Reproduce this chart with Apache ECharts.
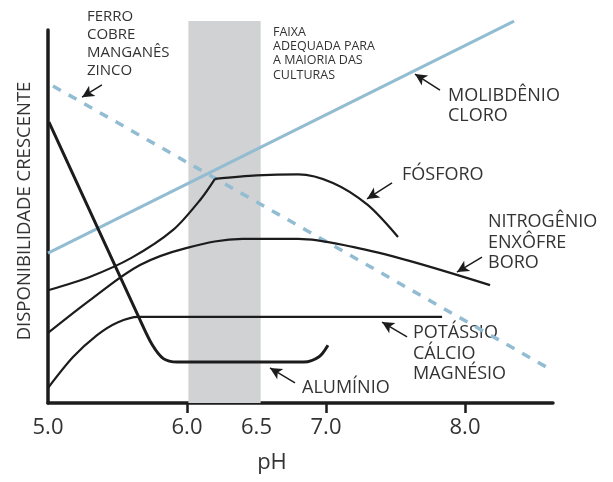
<!DOCTYPE html>
<html>
<head>
<meta charset="utf-8">
<script src="https://cdn.jsdelivr.net/npm/echarts@6/dist/echarts.min.js"></script>
<style>
  html, body { margin: 0; padding: 0; background: #fff; }
  #chart { width: 613px; height: 482px; }
</style>
</head>
<body>
<div id="chart"></div>
<script>
// pH no eixo x, disponibilidade relativa (0-100) no eixo y
const xLabels = [5.0, 6.0, 6.5, 7.0, 8.0]
const xTicks = [6.0, 7.0, 8.0]
const faixa = [[6.01, 6.53, 102.4]]   // faixa adequada: ph inicial, ph final, topo

const molibdenio = [[5.0, 40.2], [8.353, 102.4]]
const ferro = [[5.036, 85.0], [8.597, 9.4]]
const aluminio = [
  [5.007, 75.3], [5.662, 22.3], [5.75, 15.6], [5.83, 11.9], [5.93, 11.0],
  [6.84, 11.0], [6.95, 12.4], [7.014, 15.5]
]
const fosforoSubida = [
  [5.007, 30.3], [5.3, 33.8], [5.6, 38.9], [5.9, 46.4], [6.1, 54.7], [6.201, 60.1]
]
const fosforoTopo = [
  [6.201, 60.1], [6.5, 61.0], [6.8, 61.3], [7.05, 59.0], [7.3, 53.1], [7.518, 44.5]
]
const nitrogenio = [
  [5.0, 18.8], [5.324, 28.2], [5.662, 37.0], [6.0, 41.6], [6.4, 44.0],
  [6.8, 44.0], [7.2, 41.8], [7.6, 38.1], [8.18, 31.6]
]
const potassio = [
  [5.0, 4.0], [5.18, 12.3], [5.353, 18.2], [5.5, 21.6], [5.65, 23.1], [7.835, 23.1]
]
// setas: [cauda, ponta]
const setas = [
  [[5.388, 85.3], [5.245, 82.0]],
  [[7.82, 83.9], [7.64, 88.2]],
  [[7.475, 59.0], [7.295, 54.7]],
  [[8.122, 39.1], [7.942, 35.1]],
  [[7.583, 17.7], [7.403, 21.7]],
  [[6.777, 5.4], [6.597, 9.4]]
]

const preto = '#1c1c1c'
const azul = '#92bcd2'
const texto = '#333'
const fonte = '"Open Sans", sans-serif'

let myChart = echarts.init(document.getElementById('chart'))

function curva(data, width, smooth) {
  return {
    type: 'line',
    data: data,
    symbol: 'none',
    smooth: smooth,
    clip: false,
    z: 3,
    lineStyle: { color: preto, width: width }
  }
}

function rotulo(txt, x, y, size, lh) {
  return {
    type: 'text',
    style: {
      text: txt, x: x, y: y, fill: texto,
      font: size + 'px ' + fonte,
      lineHeight: lh,
      textAlign: 'left',
      textVerticalAlign: 'top'
    }
  }
}

let option = {
  animation: false,
  grid: { left: 48, right: 60, top: 30, bottom: 79 },
  xAxis: {
    type: 'value',
    min: 5.0,
    max: 8.633,
    axisLine: { show: true, lineStyle: { color: preto, width: 3.5 } },
    axisTick: {
      show: true, length: 10, inside: false,
      customValues: xTicks,
      lineStyle: { color: preto, width: 2.5 }
    },
    axisLabel: {
      customValues: xLabels,
      formatter: v => v.toFixed(1),
      color: texto,
      fontSize: 22,
      fontFamily: fonte,
      margin: 14
    },
    splitLine: { show: false }
  },
  yAxis: {
    type: 'value',
    min: 0,
    max: 100,
    axisLine: { show: true, lineStyle: { color: preto, width: 3.5 } },
    axisTick: { show: false },
    axisLabel: { show: false },
    splitLine: { show: false }
  },
  graphic: [
    {
      type: 'text',
      rotation: Math.PI / 2,
      x: 25, y: 211,
      style: {
        text: 'DISPONIBILIDADE CRESCENTE', fill: texto,
        font: '18.5px ' + fonte, textAlign: 'center', textVerticalAlign: 'middle'
      }
    },
    {
      type: 'text',
      style: {
        text: 'pH', x: 272, y: 463, fill: texto,
        font: '22px ' + fonte, textAlign: 'center', textVerticalAlign: 'middle'
      }
    },
    rotulo('FERRO\nCOBRE\nMANGANÊS\nZINCO', 87, 8, 15, 18),
    rotulo('FAIXA\nADEQUADA PARA\nA MAIORIA DAS\nCULTURAS', 273, 25, 12.5, 14.3),
    rotulo('MOLIBDÊNIO\nCLORO', 448, 86, 18, 20),
    rotulo('FÓSFORO', 402, 165, 18, 20),
    rotulo('NITROGÊNIO\nENXÔFRE\nBORO', 488, 212, 18, 20.5),
    rotulo('POTÁSSIO\nCÁLCIO\nMAGNÉSIO', 413, 323, 18, 20.5),
    rotulo('ALUMÍNIO', 302, 378, 18, 20)
  ],
  series: [
    {
      type: 'custom',
      data: faixa,
      clip: false,
      silent: true,
      z: 1,
      renderItem: function (params, api) {
        let p0 = api.coord([api.value(0), api.value(2)])
        let p1 = api.coord([api.value(1), 0])
        return {
          type: 'rect',
          shape: { x: p0[0], y: p0[1], width: p1[0] - p0[0], height: p1[1] - p0[1] },
          style: { fill: '#d1d2d4' }
        }
      }
    },
    {
      type: 'line',
      data: molibdenio,
      symbol: 'none',
      clip: false,
      z: 2,
      lineStyle: { color: azul, width: 3 }
    },
    {
      type: 'line',
      data: ferro,
      symbol: 'none',
      clip: false,
      z: 2,
      lineStyle: { color: azul, width: 3.5, type: [9, 9] }
    },
    curva(fosforoSubida, 2.2, 0.3),
    curva(fosforoTopo, 2.2, 0.3),
    curva(nitrogenio, 2.2, 0.35),
    curva(potassio, 2.2, 0.3),
    curva(aluminio, 3, 0.3),
    {
      type: 'line',
      data: [],
      z: 4,
      markLine: {
        silent: true,
        symbol: ['none', 'arrow'],
        symbolSize: [9, 12],
        label: { show: false },
        lineStyle: { color: preto, width: 1.5, type: 'solid' },
        data: setas.map(s => [{ coord: s[0] }, { coord: s[1] }])
      }
    }
  ]
}
myChart.setOption(option)
</script>
</body>
</html>
